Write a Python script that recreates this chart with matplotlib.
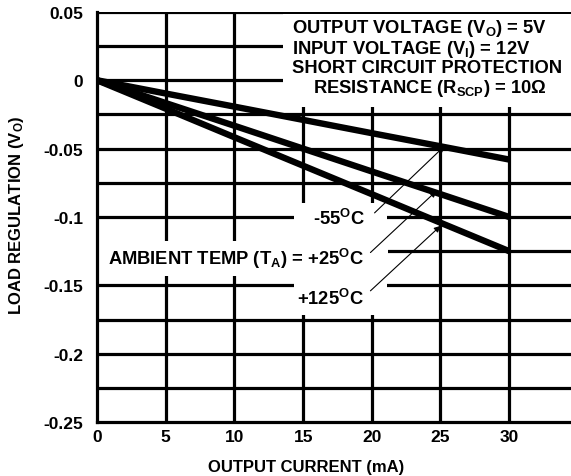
import matplotlib
matplotlib.use('Agg')
import matplotlib.pyplot as plt
from matplotlib.patches import Rectangle

plt.rcParams['font.family'] = ['Liberation Sans', 'DejaVu Sans']
plt.rcParams['font.weight'] = 'bold'
plt.rcParams['mathtext.fontset'] = 'custom'
plt.rcParams['mathtext.rm'] = 'Liberation Sans:bold'
plt.rcParams['mathtext.bf'] = 'Liberation Sans:bold'
plt.rcParams['mathtext.it'] = 'Liberation Sans:bold'
plt.rcParams['mathtext.default'] = 'rm'

# data
current_ma = [0, 5, 10, 15, 20, 25, 30]
reg_m55 = [0, -0.0097, -0.0193, -0.029, -0.0387, -0.0483, -0.058]
reg_p25 = [0, -0.0167, -0.0333, -0.05, -0.0667, -0.0833, -0.1]
reg_p125 = [0, -0.0208, -0.0417, -0.0625, -0.0833, -0.1042, -0.125]

x_ticks = [0, 5, 10, 15, 20, 25, 30]
y_ticks = [0.05, 0, -0.05, -0.1, -0.15, -0.2, -0.25]
y_tick_labels = ['0.05', '0', '-0.05', '-0.1', '-0.15', '-0.2', '-0.25']
y_grid = [0.05, 0.025, 0, -0.025, -0.05, -0.075, -0.1, -0.125, -0.15,
          -0.175, -0.2, -0.225]

FS_TICK = 12.5
FS_LBL = 12
FS_TXT = 13.2

fig = plt.figure(figsize=(5.71, 4.77), dpi=100)
ax = fig.add_axes([0.170, 0.113, 0.830, 0.860])
ax.set_xlim(0, 34.5)
ax.set_ylim(-0.25, 0.05)

# grid
for y in y_grid:
    ax.axhline(y, color='black', lw=2.3, zorder=1)
for x in x_ticks[1:]:
    ax.axvline(x, color='black', lw=2.3, zorder=1)

# white areas behind the labels
white = dict(facecolor='white', edgecolor='none', zorder=2)
ax.add_patch(Rectangle((13.5, -0.0195), 22, 0.068, **white))
ax.add_patch(Rectangle((0.15, -0.1428), 21.0, 0.0253, **white))
ax.add_patch(Rectangle((14.3, -0.172), 6.8, 0.082, **white))

# curves
for vals in [reg_m55, reg_p25, reg_p125]:
    ax.plot(current_ma, vals, color='black', lw=4.6, solid_capstyle='butt', zorder=3)

for s in ['top', 'right']:
    ax.spines[s].set_visible(False)
for s in ['left', 'bottom']:
    ax.spines[s].set_linewidth(2.3)
    ax.spines[s].set_zorder(4)

ax.set_xticks(x_ticks)
ax.set_yticks(y_ticks)
ax.set_yticklabels(y_tick_labels)
ax.tick_params(length=0, labelsize=FS_TICK)
ax.tick_params(axis='x', pad=5)
ax.tick_params(axis='y', pad=10)
for lbl in ax.get_xticklabels() + ax.get_yticklabels():
    lbl.set_fontweight('bold')

fig.text(306 / 571, 1 - 468 / 477, 'OUTPUT CURRENT (mA)', fontsize=FS_LBL,
         ha='center', va='center')
fig.text(17 / 571, 1 - 215 / 477, 'LOAD REGULATION (V$_\\mathrm{O}$)', fontsize=FS_LBL,
         ha='center', va='center', rotation=90)

# conditions text
tx = 14.2
ax.text(tx, 0.0385, 'OUTPUT VOLTAGE (V$_\\mathrm{O}$) = 5V', fontsize=FS_TXT,
        va='center', ha='left', zorder=5)
ax.text(tx, 0.0232, 'INPUT VOLTAGE (V$_\\mathrm{I}$) = 12V', fontsize=FS_TXT,
        va='center', ha='left', zorder=5)
ax.text(tx, 0.0094, 'SHORT CIRCUIT PROTECTION', fontsize=FS_TXT,
        va='center', ha='left', zorder=5)
ax.text(24.2, -0.0051, 'RESISTANCE (R$_\\mathrm{SCP}$) = 10Ω', fontsize=FS_TXT,
        va='center', ha='center', zorder=5)

# temperature labels
ax.text(17.6, -0.1007, '-55$^\\mathrm{O}$C', fontsize=FS_TXT,
        ha='center', va='center', zorder=5)
ax.text(19.4, -0.130, 'AMBIENT TEMP (T$_\\mathrm{A}$) = +25$^\\mathrm{O}$C', fontsize=FS_TXT,
        ha='right', va='center', zorder=5)
ax.text(19.4, -0.159, '+125$^\\mathrm{O}$C', fontsize=FS_TXT,
        ha='right', va='center', zorder=5)

# pointer arrows
arrow = dict(arrowstyle='-|>', color='black', lw=0.8, mutation_scale=9,
             shrinkA=0, shrinkB=0)
ax.annotate('', xy=(25.3, -0.048), xytext=(20.2, -0.097), arrowprops=arrow, zorder=5)
ax.annotate('', xy=(24.7, -0.081), xytext=(19.9, -0.126), arrowprops=arrow, zorder=5)
ax.annotate('', xy=(25.0, -0.1065), xytext=(19.9, -0.154), arrowprops=arrow, zorder=5)

fig.savefig('out.png', dpi=100)
